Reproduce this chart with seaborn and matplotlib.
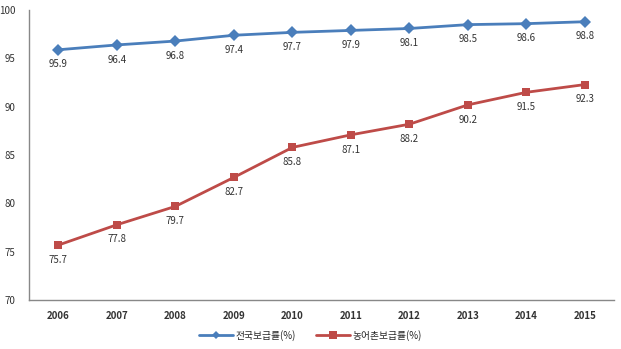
import matplotlib
matplotlib.use("Agg")
import matplotlib.pyplot as plt
import seaborn as sns
import pandas as pd
import numpy as np

years = ["2006", "2007", "2008", "2009", "2010", "2011", "2012", "2013", "2014", "2015"]
national = [95.9, 96.4, 96.8, 97.4, 97.7, 97.9, 98.1, 98.5, 98.6, 98.8]
rural = [75.7, 77.8, 79.7, 82.7, 85.8, 87.1, 88.2, 90.2, 91.5, 92.3]
series_names = ["전국보급률(%)", "농어촌보급률(%)"]
colors = ["#4A7EBB", "#BE4B48"]
markers = ["D", "s"]

sns.set_style("white")
plt.rcParams['font.family'] = ['Noto Sans CJK KR', 'DejaVu Sans']

pos = np.arange(len(years))
df = pd.DataFrame({
    "x": np.concatenate([pos, pos]),
    "value": national + rural,
    "series": [series_names[0]] * len(years) + [series_names[1]] * len(years),
})

fig = plt.figure(figsize=(6.21, 3.49), dpi=100)
ax = fig.add_axes([0.047, 0.140, 0.942, 0.831])

sns.lineplot(data=df, x="x", y="value", hue="series", style="series",
             palette=colors, markers=dict(zip(series_names, markers)),
             dashes=False, linewidth=2, markersize=6, markeredgewidth=0,
             ax=ax, legend=False)

for vals in (national, rural):
    for x, v in zip(pos, vals):
        ax.annotate(f"{v}", (x, v), xytext=(0, -7), textcoords="offset points",
                    ha="center", va="top", fontsize=7, color="#333333")

ax.set_xlim(-0.5, len(years) - 0.5)
ax.set_ylim(70, 100)
ax.set_yticks(range(70, 101, 5))
ax.set_yticklabels([str(v) for v in range(70, 101, 5)], fontsize=7, color="#333333")
ax.set_xticks(pos)
ax.set_xticklabels(years, fontsize=7, fontweight="bold", color="#333333")
ax.set_xticks(np.arange(-0.5, len(years)), minor=True)
ax.tick_params(axis="x", which="major", length=0, pad=8)
ax.tick_params(axis="x", which="minor", length=4, color="#888888", direction="out")
ax.tick_params(axis="y", length=4, color="#888888", direction="out", pad=6)
ax.set_xlabel("")
ax.set_ylabel("")
for s in ["top", "right"]:
    ax.spines[s].set_visible(False)
for s in ["left", "bottom"]:
    ax.spines[s].set_color("#888888")
    ax.spines[s].set_linewidth(1)

from matplotlib.lines import Line2D
handles = [Line2D([0], [0], color=c, marker=m, lw=2, markersize=6 if m == "s" else 4.5, markeredgewidth=0)
           for c, m in zip(colors, markers)]
fig.legend(handles, series_names, loc="center", bbox_to_anchor=(0.5, 0.04), ncol=2,
           frameon=False, fontsize=7, handlelength=3.5, columnspacing=2, handletextpad=0.3)

fig.savefig("out.png", dpi=100)
